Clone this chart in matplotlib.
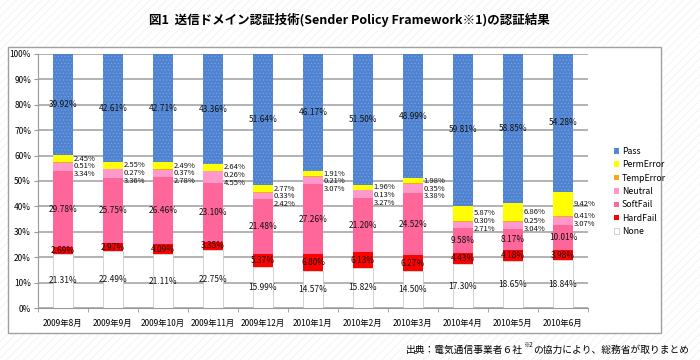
import numpy as np
import matplotlib
matplotlib.use("Agg")
import matplotlib.pyplot as plt
from matplotlib.patches import Rectangle

plt.rcParams['font.family'] = ['Noto Sans CJK JP', 'DejaVu Sans']
plt.rcParams['hatch.linewidth'] = 0.5

months = ["2009年8月", "2009年9月", "2009年10月", "2009年11月", "2009年12月",
          "2010年1月", "2010年2月", "2010年3月", "2010年4月", "2010年5月", "2010年6月"]

# percent of mails per result, bottom to top
none_pct = [21.31, 22.49, 21.11, 22.75, 15.99, 14.57, 15.82, 14.50, 17.30, 18.65, 18.84]
hardfail = [2.69, 2.97, 4.09, 3.35, 5.37, 6.80, 6.13, 6.27, 4.43, 4.18, 3.98]
softfail = [29.78, 25.75, 26.46, 23.10, 21.48, 27.26, 21.20, 24.52, 9.58, 8.17, 10.01]
neutral = [3.34, 3.36, 2.78, 4.55, 2.42, 3.07, 3.27, 3.38, 2.71, 3.04, 3.07]
temperror = [0.51, 0.27, 0.37, 0.26, 0.33, 0.21, 0.13, 0.35, 0.30, 0.25, 0.41]
permerror = [2.45, 2.55, 2.49, 2.64, 2.77, 1.91, 1.96, 1.98, 5.87, 6.86, 9.42]
pass_pct = [39.92, 42.61, 42.71, 43.36, 51.64, 46.17, 51.50, 48.99, 59.81, 58.85, 54.28]

series = [
    ("None", none_pct, "white"),
    ("HardFail", hardfail, "#ff0000"),
    ("SoftFail", softfail, "#ff6699"),
    ("Neutral", neutral, "#ff99cc"),
    ("TempError", temperror, "#f5a623"),
    ("PermError", permerror, "#ffff00"),
    ("Pass", pass_pct, "#4f83d1"),
]

fig = plt.figure(figsize=(7, 3.6), dpi=100)

# hatched page background + white chart box
fig.patches.append(Rectangle((0, 0), 1, 1, transform=fig.transFigure, facecolor="white",
                             edgecolor="#f0f0f0", hatch="////", lw=0, zorder=-10))
fig.patches.append(Rectangle((8 / 700, 1 - 333 / 360), 653 / 700, 286 / 360,
                             transform=fig.transFigure, facecolor="white",
                             edgecolor="#a0a0a0", lw=1.0, zorder=-5))

ax = fig.add_axes([38 / 700, 1 - 308 / 360, 550 / 700, 254 / 360])
ax.set_facecolor("white")

x = np.arange(len(months))
bottom = np.zeros(len(months))
handles = {}
for name, vals, color in series:
    vals = np.array(vals)
    if name == "Pass":
        bars = ax.bar(x, vals, 0.4, bottom=bottom, color=color, edgecolor="#76a2e2",
                      hatch=".....", lw=0, zorder=2)
    elif name == "None":
        bars = ax.bar(x, vals, 0.4, bottom=bottom, color=color, edgecolor="#c0c0c0",
                      lw=0.5, zorder=2)
    else:
        bars = ax.bar(x, vals, 0.4, bottom=bottom, color=color, lw=0, zorder=2)
    handles[name] = bars
    if name in ("None", "HardFail", "SoftFail", "Pass"):
        for i in range(len(months)):
            ax.text(x[i], bottom[i] + vals[i] / 2, f"{vals[i]:.2f}%", ha="center",
                    va="center", fontsize=6, color="#111111", zorder=3)
    bottom = bottom + vals

# small segments: labels beside the bar, pushed apart
for i in range(len(months)):
    base = none_pct[i] + hardfail[i] + softfail[i]
    c_neu = base + neutral[i] / 2
    c_tmp = base + neutral[i] + temperror[i] / 2
    c_prm = base + neutral[i] + temperror[i] + permerror[i] / 2
    y_prm = c_prm
    y_tmp = min(c_tmp, y_prm - 3.0)
    y_neu = min(c_neu, y_tmp - 3.0)
    for yy, v in ((y_prm, permerror[i]), (y_tmp, temperror[i]), (y_neu, neutral[i])):
        ax.text(x[i] + 0.21, yy, f"{v:.2f}%", ha="left", va="center", fontsize=5.5,
                color="#111111", zorder=3)

ax.set_xlim(-0.5, len(months) - 0.5)
ax.set_ylim(0, 100)
ax.set_yticks(np.arange(0, 101, 10))
ax.set_yticklabels([f"{v}%" for v in range(0, 101, 10)])
ax.set_xticks(x)
ax.set_xticklabels(months)
ax.set_xticks(np.arange(-0.5, len(months), 1), minor=True)
ax.tick_params(axis="x", which="major", length=0, pad=8, labelsize=6)
ax.tick_params(axis="x", which="minor", length=3, color="#999999")
ax.tick_params(axis="y", length=3, color="#999999", pad=2, labelsize=6)
ax.yaxis.grid(True, color="#a6a6a6", lw=1.2)
ax.set_axisbelow(True)
for s in ("top", "right"):
    ax.spines[s].set_visible(False)
for s in ("left", "bottom"):
    ax.spines[s].set_color("#999999")

order = ["Pass", "PermError", "TempError", "Neutral", "SoftFail", "HardFail", "None"]
fig.legend([handles[n] for n in order], order, loc="upper left",
           bbox_to_anchor=(606 / 700, 1 - 139 / 360), frameon=False, fontsize=6.3,
           handlelength=0.6, handleheight=0.6, handletextpad=0.3, labelspacing=0.5)

fig.text(349 / 700, 1 - 20 / 360,
         "図1  送信ドメイン認証技術(Sender Policy Framework※1)の認証結果",
         ha="center", va="center", fontsize=9, fontweight="bold")

# source note with superscript
r = fig.canvas.get_renderer()
t1 = fig.text(406 / 700, 1 - 350 / 360, "出典：電気通信事業者６社", fontsize=7, va="center")
x1 = t1.get_window_extent(r).x1
t2 = fig.text(x1 / 700, 1 - 345 / 360, "※2", fontsize=4.5, va="center")
x2 = t2.get_window_extent(r).x1
fig.text(x2 / 700, 1 - 350 / 360, "の協力により、総務省が取りまとめ", fontsize=7, va="center")

fig.savefig("out.png", dpi=100)
